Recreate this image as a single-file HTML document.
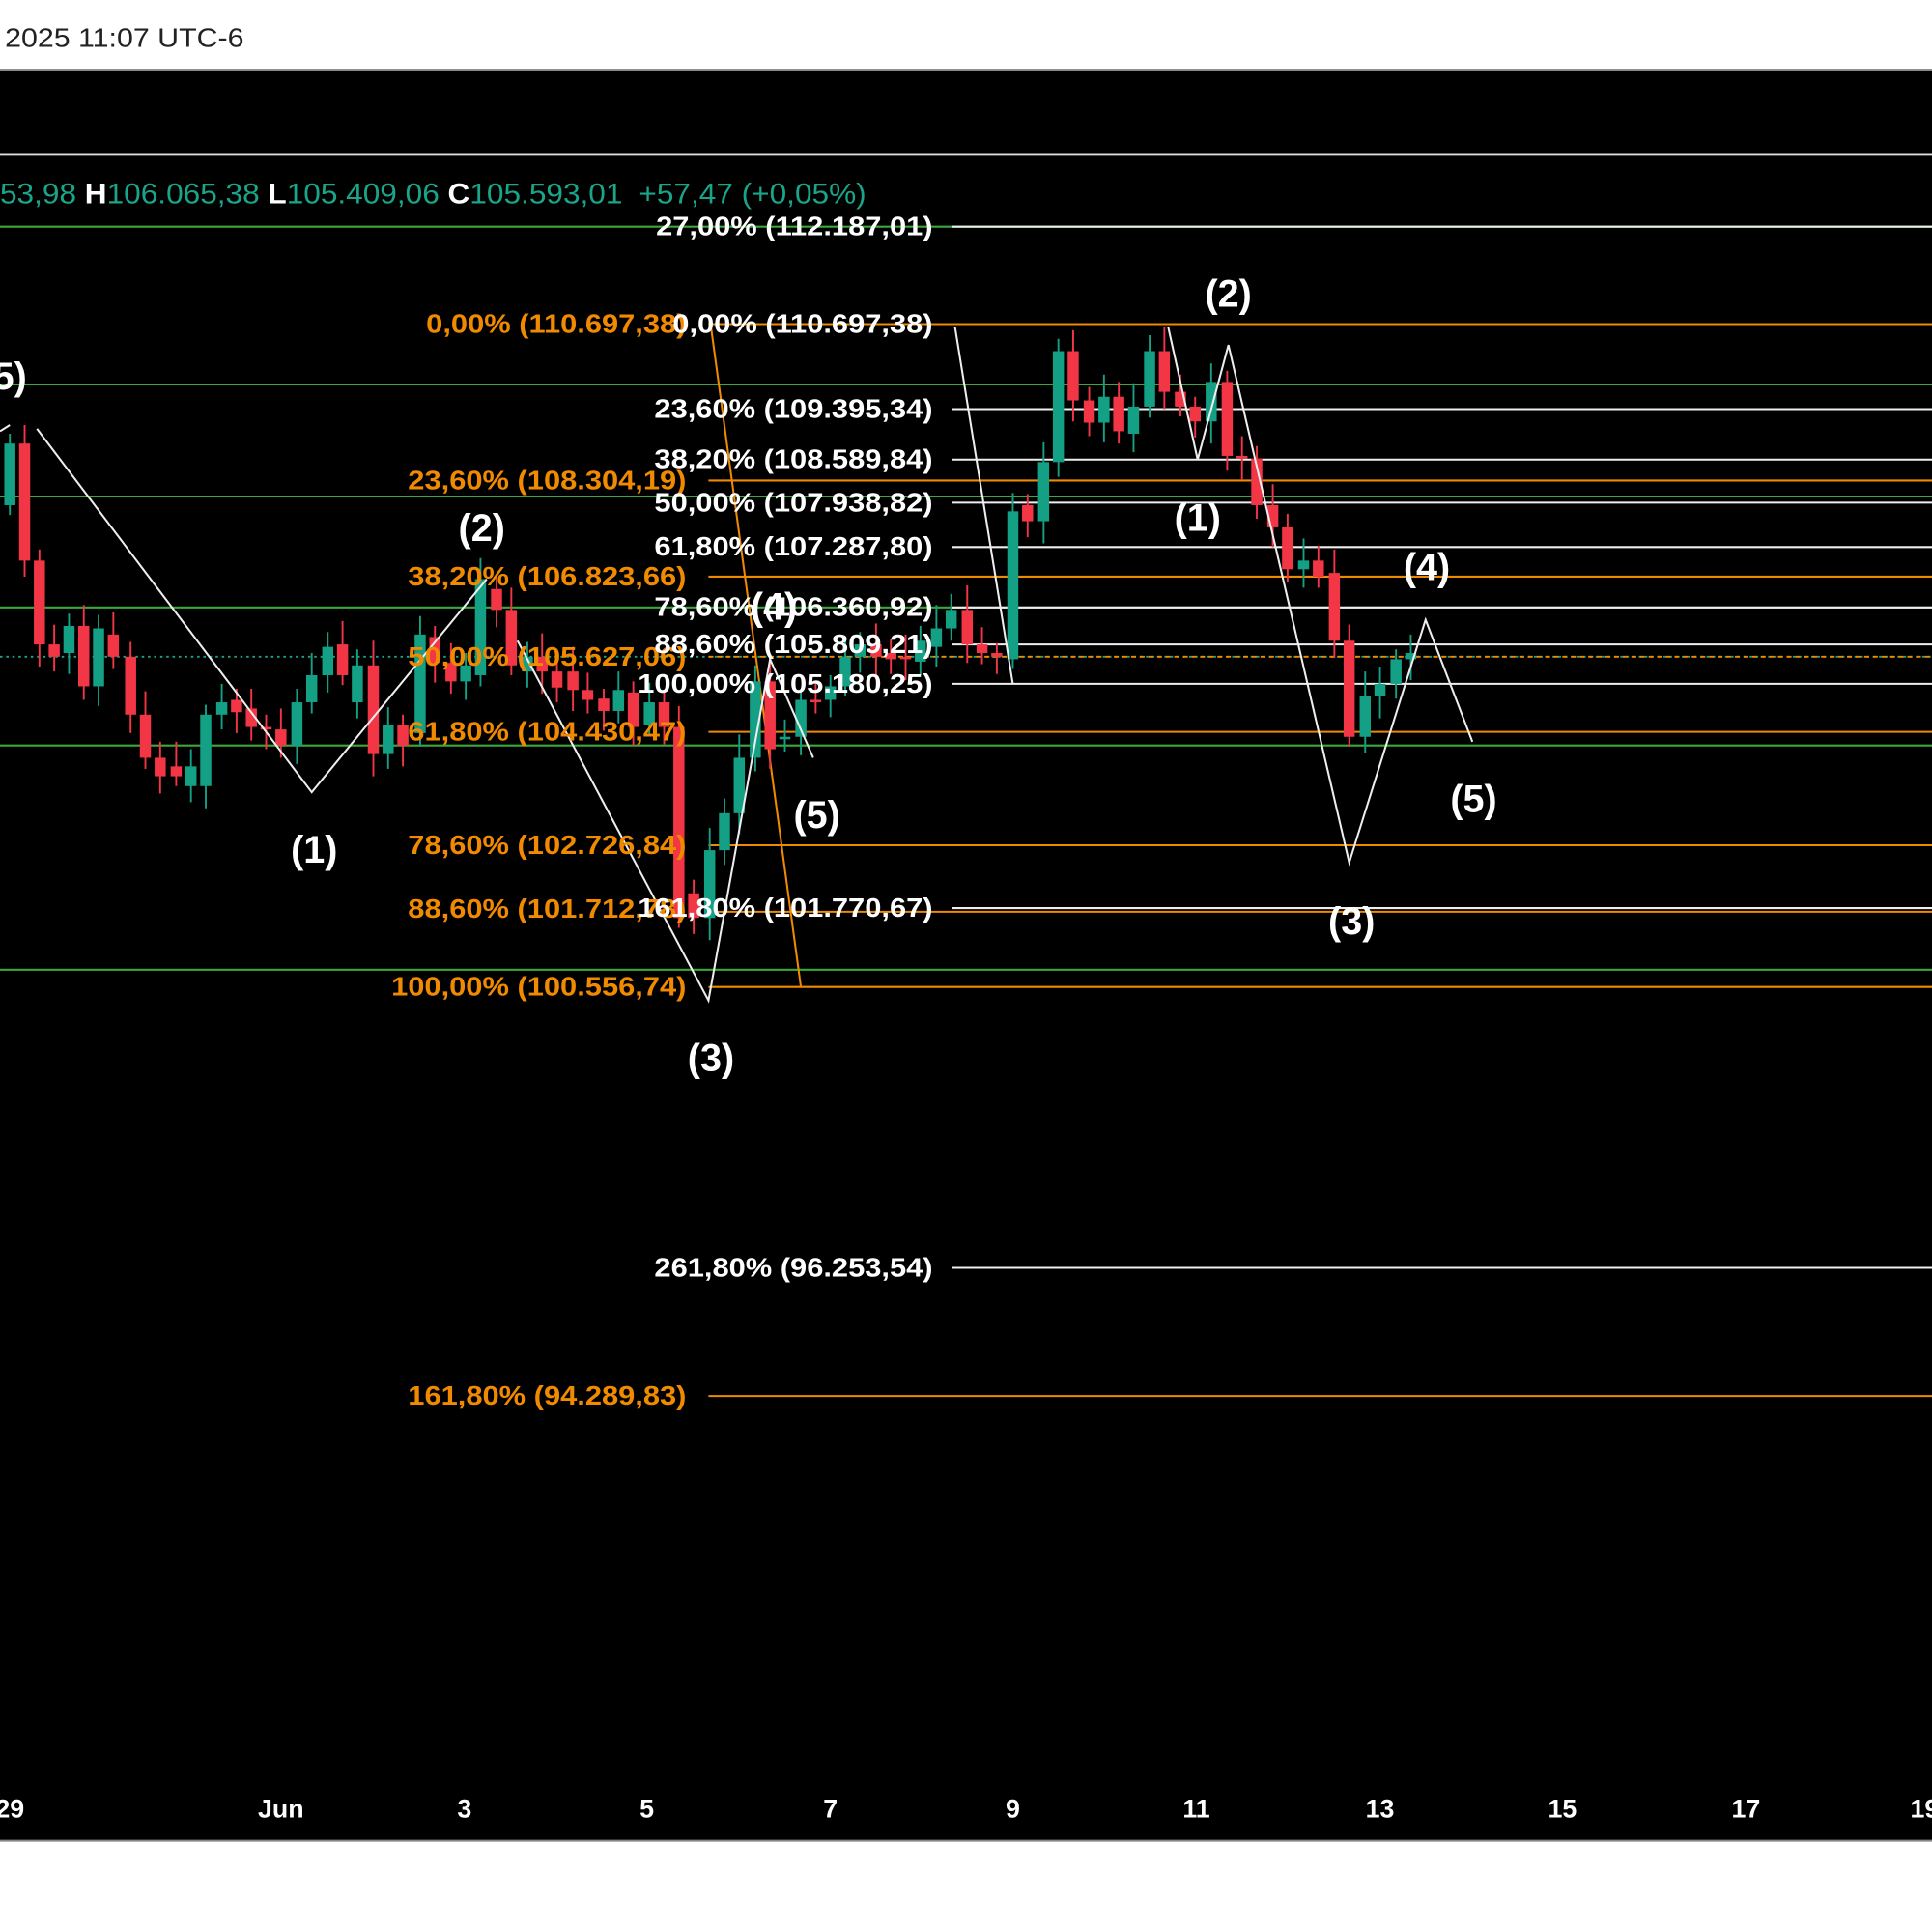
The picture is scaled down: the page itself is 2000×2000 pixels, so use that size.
<!DOCTYPE html>
<html><head><meta charset="utf-8"><style>
html,body{margin:0;padding:0;background:#fff;width:2000px;height:2000px;overflow:hidden}
svg{display:block}
text{font-family:"Liberation Sans",sans-serif}
</style></head><body>
<svg id="s" width="2000" height="2000" viewBox="0 0 1568 1568" xmlns="http://www.w3.org/2000/svg">
<rect x="0" y="0" width="1568" height="1568" fill="#fff"/>
<text x="4" y="38" font-size="22" fill="#222" textLength="194" lengthAdjust="spacingAndGlyphs">2025 11:07 UTC-6</text>
<rect x="0" y="56" width="1568" height="1438" fill="#000"/>
<line x1="0" y1="56.5" x2="1568" y2="56.5" stroke="#888" stroke-width="1.5"/>
<line x1="0" y1="1494" x2="1568" y2="1494" stroke="#888" stroke-width="1.5"/>
<line x1="0" y1="125" x2="1568" y2="125" stroke="#ddd" stroke-width="1.5"/>
<g stroke="#3aa83a" stroke-width="1.6">
<line x1="0" y1="184" x2="1568" y2="184"/><line x1="0" y1="312" x2="1568" y2="312"/>
<line x1="0" y1="403" x2="1568" y2="403"/><line x1="0" y1="493" x2="1568" y2="493"/>
<line x1="0" y1="605" x2="1568" y2="605"/><line x1="0" y1="787" x2="1568" y2="787"/>
</g>
<line x1="0" y1="533" x2="1568" y2="533" stroke="#1aa58a" stroke-width="1.5" stroke-dasharray="2,3"/>
<line x1="575" y1="533" x2="1568" y2="533" stroke="#f08a00" stroke-width="1.5" stroke-dasharray="4,3"/>
<g stroke="#f08a00" stroke-width="1.6">
<line x1="575" y1="263" x2="1568" y2="263"/><line x1="575" y1="390" x2="1568" y2="390"/>
<line x1="575" y1="468" x2="1568" y2="468"/><line x1="575" y1="594" x2="1568" y2="594"/>
<line x1="575" y1="686" x2="1568" y2="686"/><line x1="575" y1="740" x2="1568" y2="740"/>
<line x1="575" y1="801" x2="1568" y2="801"/><line x1="575" y1="1133" x2="1568" y2="1133"/>
<line x1="577" y1="265" x2="650" y2="801"/>
</g>
<g stroke="#eee" stroke-width="1.6">
<line x1="773" y1="184" x2="1568" y2="184"/><line x1="773" y1="332" x2="1568" y2="332"/>
<line x1="773" y1="373" x2="1568" y2="373"/><line x1="773" y1="408" x2="1568" y2="408"/>
<line x1="773" y1="444" x2="1568" y2="444"/><line x1="773" y1="493" x2="1568" y2="493"/>
<line x1="773" y1="523" x2="1568" y2="523"/><line x1="773" y1="555" x2="1568" y2="555"/>
<line x1="773" y1="737" x2="1568" y2="737"/><line x1="773" y1="1029" x2="1568" y2="1029"/>
</g>
<g id="candles"></g>
<g fill="none" stroke="#eee" stroke-width="1.6">
<polyline points="0,350 8,345"/>
<polyline points="30,348 253,643 395,470"/>
<polyline points="420,520 575,812 625,535 660,615"/>
<polyline points="775,265 822,555"/>
<polyline points="948,265 972,373 997,280 1095,700 1157,503 1195,602"/>
</g>
<g font-size="22" font-weight="bold" fill="#f08a00" text-anchor="end">
<text class="w" x="557" y="270">0,00% (110.697,38)</text>
<text class="w" x="557" y="397">23,60% (108.304,19)</text>
<text class="w" x="557" y="475">38,20% (106.823,66)</text>
<text class="w" x="557" y="540">50,00% (105.627,06)</text>
<text class="w" x="557" y="601">61,80% (104.430,47)</text>
<text class="w" x="557" y="693">78,60% (102.726,84)</text>
<text class="w" x="557" y="745">88,60% (101.712,78)</text>
<text class="w" x="557" y="808">100,00% (100.556,74)</text>
<text class="w" x="557" y="1140">161,80% (94.289,83)</text>
</g>
<g font-size="22" font-weight="bold" fill="#fff" text-anchor="end">
<text class="w" x="757" y="191">27,00% (112.187,01)</text>
<text class="w" x="757" y="270">0,00% (110.697,38)</text>
<text class="w" x="757" y="339">23,60% (109.395,34)</text>
<text class="w" x="757" y="380">38,20% (108.589,84)</text>
<text class="w" x="757" y="415">50,00% (107.938,82)</text>
<text class="w" x="757" y="451">61,80% (107.287,80)</text>
<text class="w" x="757" y="500">78,60% (106.360,92)</text>
<text class="w" x="757" y="530">88,60% (105.809,21)</text>
<text class="w" x="757" y="562">100,00% (105.180,25)</text>
<text class="w" x="757" y="744">161,80% (101.770,67)</text>
<text class="w" x="757" y="1036">261,80% (96.253,54)</text>
</g>
<g font-size="23" fill="#1aa58a">
<text x="0" y="165" textLength="703" lengthAdjust="spacingAndGlyphs">53,98 <tspan fill="#fff" font-weight="bold">H</tspan>106.065,38 <tspan fill="#fff" font-weight="bold">L</tspan>105.409,06 <tspan fill="#fff" font-weight="bold">C</tspan>105.593,01 <tspan dx="6">+57,47 (+0,05%)</tspan></text>
</g>
<g font-size="31" font-weight="bold" fill="#fff" text-anchor="middle">
<text x="8" y="316">5)</text>
<text x="255" y="700">(1)</text><text x="391" y="439">(2)</text>
<text x="577" y="869">(3)</text><text x="628" y="503">(4)</text>
<text x="663" y="672">(5)</text><text x="997" y="249">(2)</text>
<text x="972" y="431">(1)</text><text x="1097" y="758">(3)</text>
<text x="1158" y="471">(4)</text><text x="1196" y="659">(5)</text>
</g>
<g font-size="21" font-weight="bold" fill="#fff" text-anchor="middle">
<text x="8" y="1475">29</text><text x="228" y="1475">Jun</text><text x="377" y="1475">3</text>
<text x="525" y="1475">5</text><text x="674" y="1475">7</text><text x="822" y="1475">9</text>
<text x="971" y="1475">11</text><text x="1120" y="1475">13</text><text x="1268" y="1475">15</text>
<text x="1417" y="1475">17</text><text x="1562" y="1475">19</text>
</g>
</svg>
<script>
var d=[[8,'g',360,410],[20,'r',360,455],[32,'r',455,523],[44,'r',523,533],[56,'g',508,530],[68,'r',508,557],[80,'g',510,557],[92,'r',515,533],[106,'r',533,580],[118,'r',580,615],[130,'r',615,630],[143,'r',622,630],[155,'g',622,638],[167,'g',580,638],[180,'g',570,580],[192,'r',568,578],[204,'r',575,590],[216,'r',590,592],[228,'r',592,605],[241,'g',570,605],[253,'g',548,570],[266,'g',525,548],[278,'r',523,548],[290,'g',540,570],[303,'r',540,612],[315,'g',588,612],[327,'r',588,605],[341,'g',515,595],[353,'r',517,538],[366,'r',538,553],[378,'g',540,553],[390,'g',470,548],[403,'r',478,495],[415,'r',495,540],[428,'g',533,545],[440,'r',533,545],[452,'r',545,558],[465,'r',545,560],[477,'r',560,568],[490,'r',567,577],[502,'g',560,577],[514,'r',562,590],[527,'g',570,588],[539,'r',570,590],[551,'r',590,745],[563,'r',725,745],[576,'g',690,745],[588,'g',660,690],[600,'g',615,660],[613,'g',553,615],[625,'r',553,608],[637,'g',598,600],[650,'g',568,598],[662,'r',568,570],[674,'g',557,568],[686,'g',533,557],[698,'g',523,533],[711,'r',523,533],[723,'r',530,535],[735,'r',533,535],[747,'g',520,537],[760,'g',510,525],[772,'g',495,510],[785,'r',495,523],[797,'r',523,530],[809,'r',530,533],[822,'g',415,535],[834,'r',410,423],[847,'g',375,423],[859,'g',285,375],[871,'r',285,325],[884,'r',325,343],[896,'g',322,343],[908,'r',322,350],[920,'g',330,352],[933,'g',285,330],[945,'r',285,318],[958,'r',318,330],[970,'r',330,342],[983,'g',310,342],[996,'r',310,370],[1008,'r',370,372],[1020,'r',372,410],[1033,'r',410,428],[1045,'r',428,462],[1058,'g',455,462],[1070,'r',455,468],[1083,'r',465,520],[1095,'r',520,598],[1108,'g',565,598],[1120,'g',555,565],[1133,'g',535,555],[1145,'g',530,535]];
var h='';d.forEach(function(c,i){var col=c[1]=='g'?'#14a085':'#f23645';var t=c[2],b=c[3];var wt=t-8-(i*7%13),wb=b+8+(i*5%11);
h+='<line x1="'+c[0]+'" y1="'+wt+'" x2="'+c[0]+'" y2="'+wb+'" stroke="'+col+'" stroke-width="1.5"/>';
h+='<rect x="'+(c[0]-4.5)+'" y="'+t+'" width="9" height="'+Math.max(2,b-t)+'" fill="'+col+'"/>';});
document.getElementById('candles').innerHTML=h;
document.querySelectorAll('.w').forEach(function(t){var L=t.getComputedTextLength();t.setAttribute('textLength',(L*1.1).toFixed(1));t.setAttribute('lengthAdjust','spacingAndGlyphs');});
</script>
</body></html>
